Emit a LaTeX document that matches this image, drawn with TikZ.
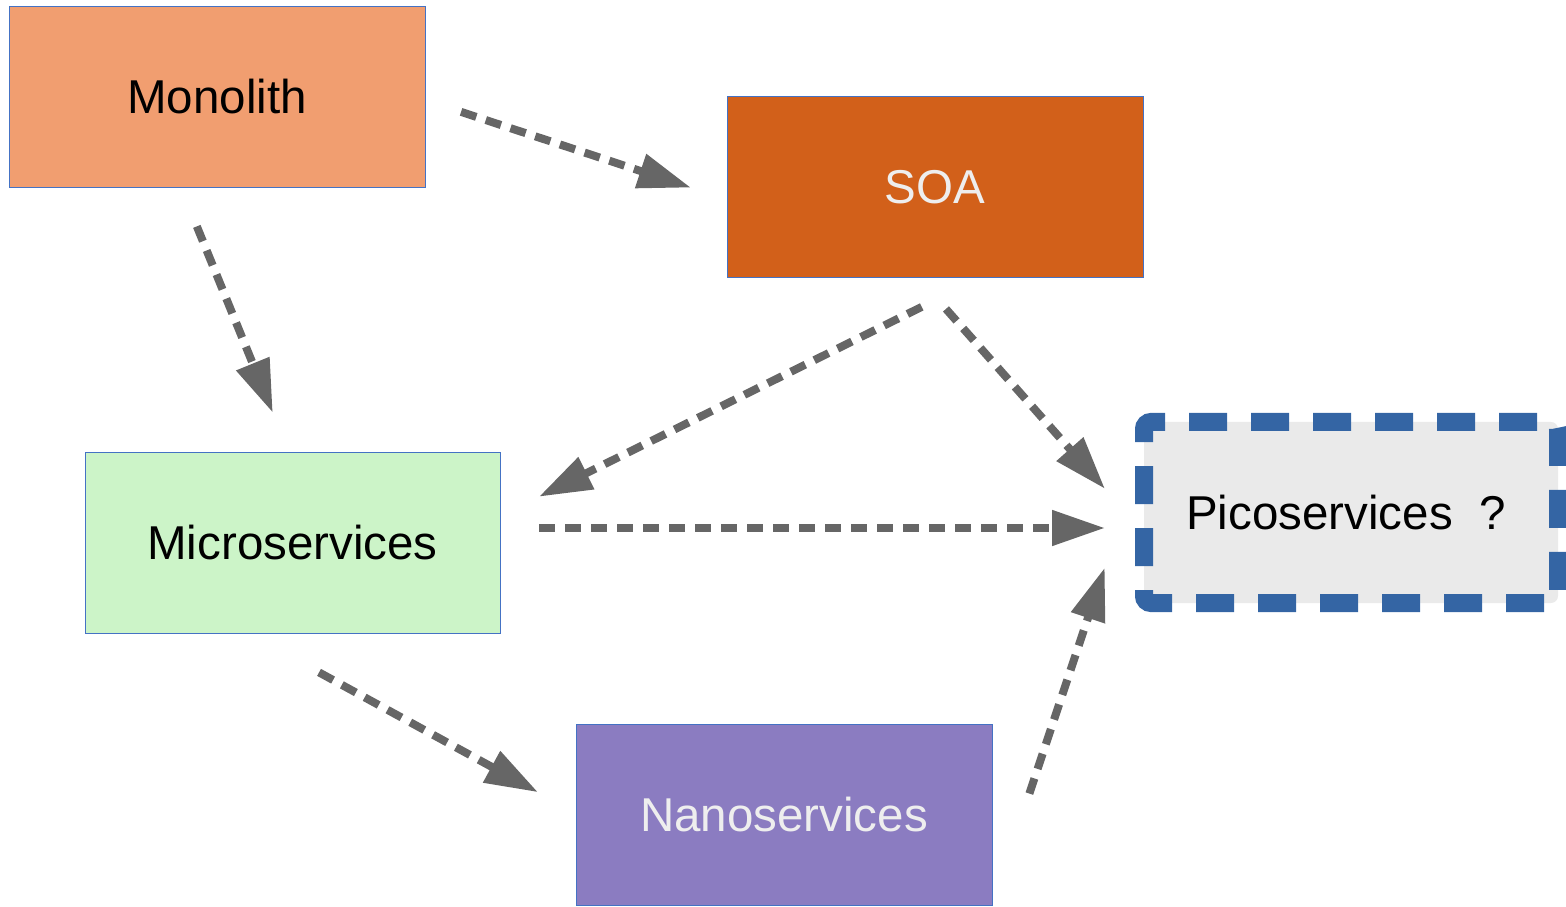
\documentclass[tikz,border=0pt]{standalone}
\usepackage{fontspec}
\setmainfont{Liberation Sans}
\usetikzlibrary{arrows.meta,calc}

\definecolor{monofill}{HTML}{F19E70}
\definecolor{soafill}{HTML}{D2601A}
\definecolor{microfill}{HTML}{CCF4C8}
\definecolor{nanofill}{HTML}{8B7CC1}
\definecolor{picofill}{HTML}{EAEAEA}
\definecolor{boxline}{HTML}{4472C4}
\definecolor{picoline}{HTML}{3465A4}
\definecolor{arrowgray}{HTML}{666666}
\definecolor{lighttext}{HTML}{EEEEEE}

\tikzset{
  stage/.style={rectangle, draw=boxline, line width=1pt, outer sep=0pt,
    minimum width=416pt, minimum height=181pt, inner sep=0pt,
    font=\fontsize{47.5}{56}\selectfont},
  future/.style={rectangle, fill=picofill, draw=picoline, line width=18pt,
    dash pattern=on 38pt off 24pt, dash phase=48pt, rounded corners=7pt, outer sep=0pt,
    minimum width=414pt, minimum height=181pt, inner sep=0pt,
    font=\fontsize{47.5}{56}\selectfont},
  evolve/.style={draw=arrowgray, line width=8pt, dash pattern=on 16pt off 10pt,
    -{Triangle[length=53pt,width=34pt,fill=arrowgray]}}
}

\begin{document}
\begin{tikzpicture}[x=1pt,y=1pt]
  \useasboundingbox (0,0) rectangle (1566,906);

  % architecture stages
  \node[stage, fill=monofill, text=black] (mono) at (217,809) {Monolith};
  \node[stage, fill=soafill, text=lighttext] (soa) at (935,718.5) {SOA};
  \node[stage, fill=microfill, text=black, minimum width=415pt] (micro) at (292.5,363) {Microservices};
  \node[stage, fill=nanofill, text=lighttext] (nano) at (784,91) {Nanoservices};
  \node[future, text=black] (pico) at (1351,393.5) {\hspace*{-10pt}Picoservices\ \ ?};

  % transitions between stages
  \draw[evolve, shorten <=38pt, shorten >=38pt]
    ($(mono.east)+(0,-3)$) -- ($(soa.west)+(0,-12)$);
  \draw[evolve, shorten <=42pt, shorten >=43pt]
    ($(mono.south)+(-36,0)$) -- ($(micro.north)+(-3.5,0)$);
  \draw[evolve, shorten <=65pt, shorten >=43.5pt]
    ($(soa.south)+(45,0)$) -- ($(micro.east)+(0,27)$);
  \draw[evolve, shorten <=41.3pt, shorten >=59pt]
    ($(soa.south)+(-16.4,0)$) -- ($(pico.west)+(0,-20.5)$);
  \draw[evolve, shorten <=39pt, shorten >=39pt]
    ($(micro.east)+(0,15)$) -- ($(pico.west)+(0,-15.5)$);
  \draw[evolve, shorten <=81pt, shorten >=43.3pt]
    ($(micro.south)+(-44.5,0)$) -- ($(nano.west)+(0,2)$);
  \draw[evolve, shorten <=118pt, shorten >=124pt]
    (nano.south east) -- ($(pico.west)+(0,62.5)$);
\end{tikzpicture}
\end{document}
